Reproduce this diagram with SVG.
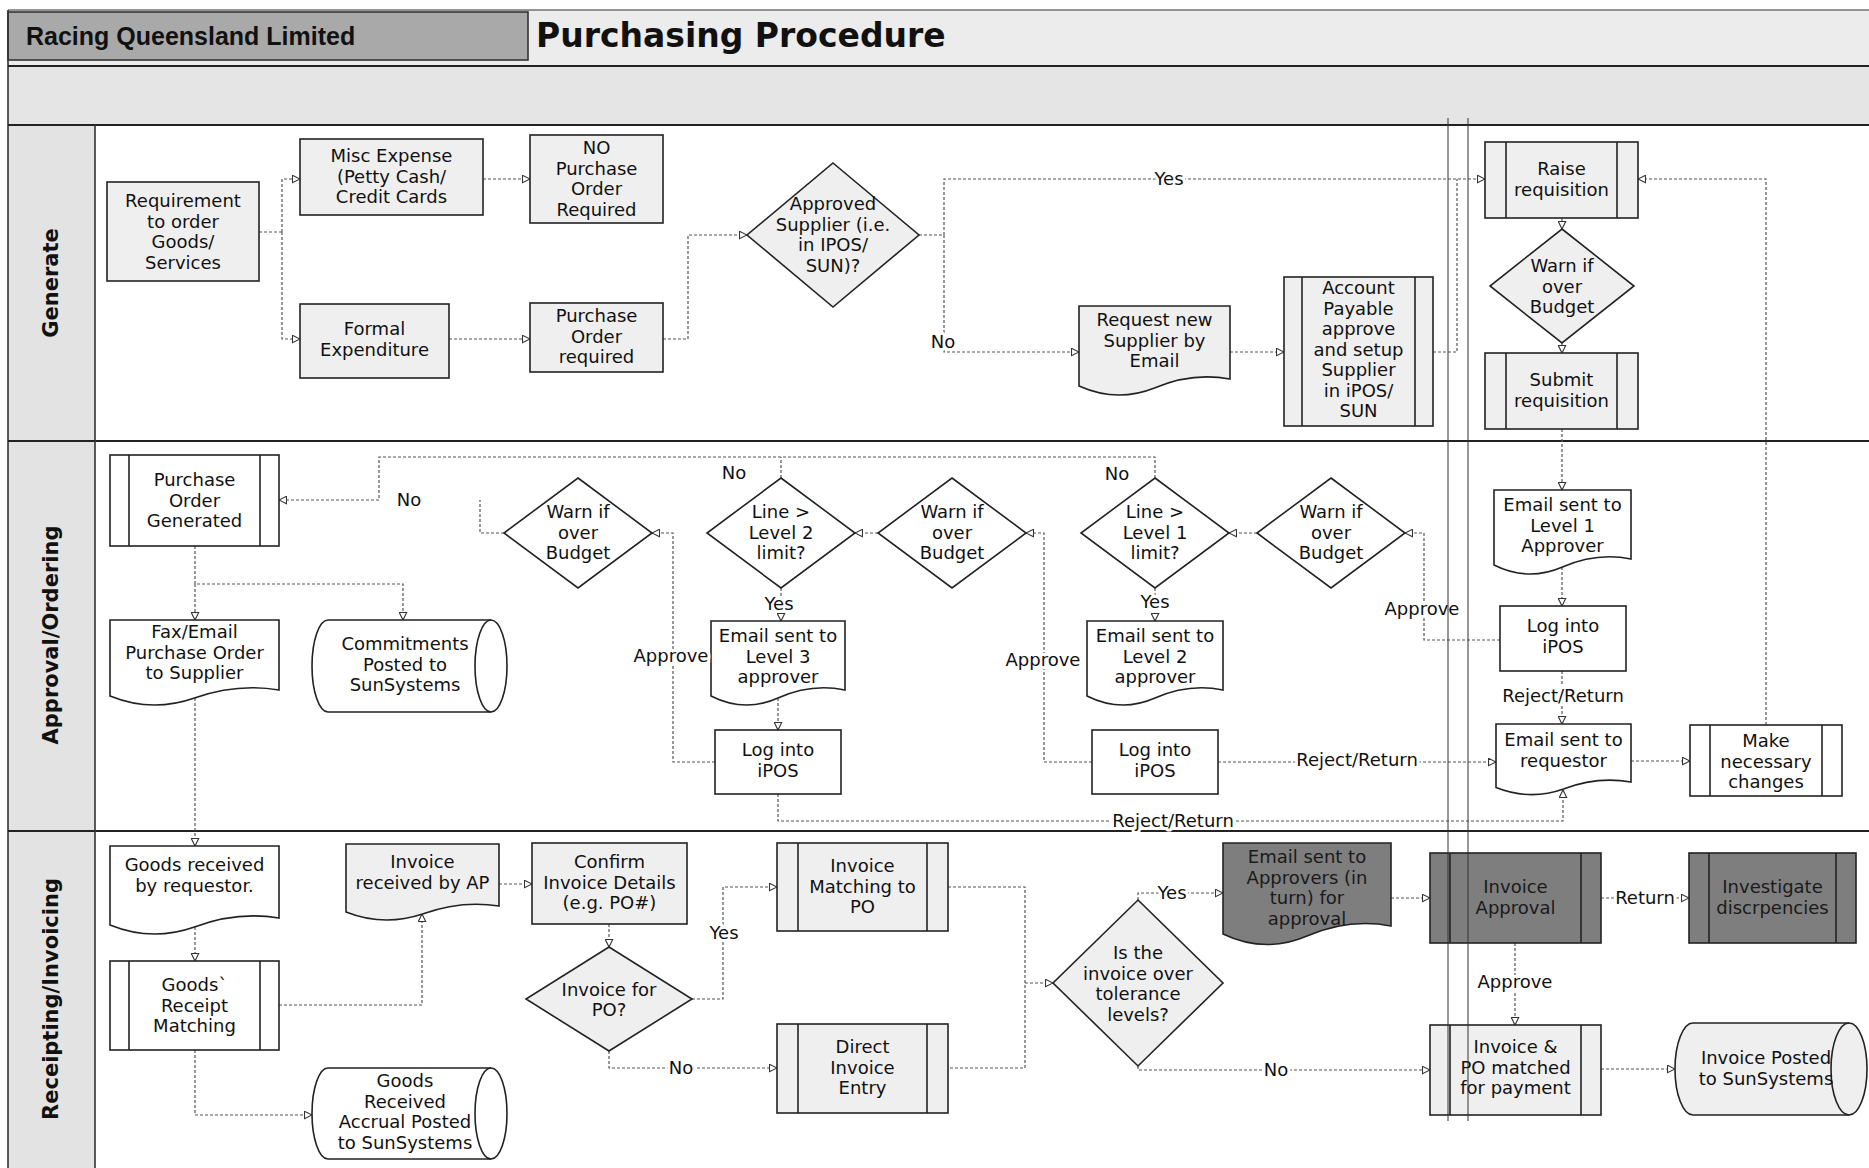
<svg xmlns="http://www.w3.org/2000/svg" width="1869" height="1168" viewBox="0 0 1869 1168">
<style>
.s{stroke:#222;stroke-width:1.6}
.w{fill:#fff}
.lt{fill:#efefef}
.dk{fill:#7e7e7e}
.t{font-family:"DejaVu Sans",Verdana,sans-serif;font-size:18px;text-anchor:middle;fill:#111}
.td{fill:#1a1a1a}
.c{fill:none;stroke:#555;stroke-width:1.2;stroke-dasharray:3 2}
.a{marker-end:url(#ah)}
.lb{font-family:"DejaVu Sans",Verdana,sans-serif;font-size:18px;text-anchor:middle;fill:#111;stroke:#fff;stroke-width:6px;paint-order:stroke;stroke-linejoin:round}
.lane{font-family:"DejaVu Sans",Verdana,sans-serif;font-size:21px;font-weight:bold;text-anchor:middle;fill:#111}
.frame{stroke:#222;stroke-width:2;fill:none}
</style>
<defs>
<marker id="ah" markerWidth="9" markerHeight="9" refX="8" refY="4.5" orient="auto" markerUnits="userSpaceOnUse">
<path d="M0.5,0.8 L8,4.5 L0.5,8.2 Z" fill="#fff" stroke="#333" stroke-width="1.1"/>
</marker>
</defs>
<rect x="0" y="0" width="1869" height="1168" fill="#fff"/>
<!-- header -->
<rect x="8" y="10" width="1861" height="56" fill="#ececec"/>
<rect x="8" y="66" width="1861" height="59" fill="#e5e5e5"/>
<rect x="8" y="125" width="87" height="1043" fill="#e3e3e3"/>
<rect x="8" y="12" width="520" height="48" fill="#a9a9a9" stroke="#333" stroke-width="1.6"/>
<text x="26" y="45" font-family="'Liberation Sans',Arial,sans-serif" font-size="25" font-weight="bold" fill="#111">Racing Queensland Limited</text>
<text x="536" y="47" font-family="'DejaVu Sans',Verdana,sans-serif" font-size="33" font-weight="bold" fill="#111">Purchasing Procedure</text>
<line x1="8" y1="10" x2="1869" y2="10" stroke="#333" stroke-width="1.2"/>
<line x1="8" y1="10" x2="8" y2="1168" stroke="#333" stroke-width="1.6"/>
<line x1="8" y1="66" x2="1869" y2="66" class="frame"/>
<line x1="8" y1="125" x2="1869" y2="125" class="frame"/>
<line x1="8" y1="441" x2="1869" y2="441" class="frame"/>
<line x1="8" y1="831" x2="1869" y2="831" class="frame"/>
<line x1="95" y1="125" x2="95" y2="1168" stroke="#333" stroke-width="1.6"/>
<text class="lane" transform="translate(58,283) rotate(-90)">Generate</text>
<text class="lane" transform="translate(58,635) rotate(-90)">Approval/Ordering</text>
<text class="lane" transform="translate(58,999) rotate(-90)">Receipting/Invoicing</text>

<g id="connectors">
<path class="c" d="M259,232 H282"/>
<path class="c a" d="M282,232 V179 H300"/>
<path class="c a" d="M282,232 V339 H300"/>
<path class="c a" d="M483,179 H530"/>
<path class="c a" d="M449,339 H530"/>
<path class="c a" d="M663,339 H688 V235 H747"/>
<path class="c a" d="M919,235 H944 V179 H1485"/>
<path class="c a" d="M944,235 V352 H1079"/>
<path class="c a" d="M1230,352 H1284"/>
<path class="c" d="M1433,352 H1457 V179"/>
<path class="c a" d="M1562,218 V229"/>
<path class="c a" d="M1562,343 V353"/>
<path class="c a" d="M1562,429 V490"/>
<path class="c a" d="M1562,567 V606"/>
<path class="c a" d="M1562,671 V724"/>
<path class="c a" d="M1500,640 H1424 V533 H1405"/>
<path class="c a" d="M1257,533 H1229"/>
<path class="c a" d="M1155,588 V621"/>
<path class="c a" d="M1155,478 V457 H379 V500 H279"/>
<path class="c" d="M504,533 H480 V500"/>
<path class="c" d="M781,478 V457"/>
<path class="c a" d="M878,533 H855"/>
<path class="c a" d="M1092,762 H1044 V533 H1026"/>
<path class="c a" d="M781,588 V621"/>
<path class="c a" d="M778,698 V730"/>
<path class="c a" d="M715,762 H673 V533 H652"/>
<path class="c a" d="M1218,762 H1496"/>
<path class="c a" d="M778,794 V821 H1563 V790"/>
<path class="c a" d="M1631,761 H1690"/>
<path class="c a" d="M1766,725 V179 H1638"/>
<path class="c a" d="M195,546 V584 H403 V620"/>
<path class="c a" d="M195,584 V620"/>
<path class="c a" d="M195,698 V846"/>
<path class="c a" d="M195,927 V961"/>
<path class="c a" d="M195,1050 V1115 H312"/>
<path class="c a" d="M279,1005 H422 V914"/>
<path class="c a" d="M499,884 H532"/>
<path class="c a" d="M609,924 V947"/>
<path class="c a" d="M692,999 H723 V887 H777"/>
<path class="c a" d="M609,1051 V1068 H777"/>
<path class="c" d="M948,887 H1025 V1068 H948"/>
<path class="c a" d="M1025,983 H1053"/>
<path class="c a" d="M1138,900 V893 H1223"/>
<path class="c a" d="M1138,1066 V1070 H1430"/>
<path class="c a" d="M1391,898 H1430"/>
<path class="c a" d="M1601,898 H1689"/>
<path class="c a" d="M1515,943 V1025"/>
<path class="c a" d="M1601,1069 H1675"/>
</g>

<!-- Generate lane -->
<g id="n-requirement">
<rect class="s lt" x="107" y="182" width="152" height="99"/>
<text class="t"><tspan x="183" y="207">Requirement</tspan><tspan x="183" y="227.5">to order</tspan><tspan x="183" y="248">Goods/</tspan><tspan x="183" y="268.5">Services</tspan></text>
</g>
<g id="n-misc">
<rect class="s lt" x="300" y="139" width="183" height="76"/>
<text class="t"><tspan x="391.5" y="162">Misc Expense</tspan><tspan x="391.5" y="182.5">(Petty Cash/</tspan><tspan x="391.5" y="203">Credit Cards</tspan></text>
</g>
<g id="n-nopo">
<rect class="s lt" x="530" y="135" width="133" height="88"/>
<text class="t"><tspan x="596.5" y="154">NO</tspan><tspan x="596.5" y="174.5">Purchase</tspan><tspan x="596.5" y="195">Order</tspan><tspan x="596.5" y="215.5">Required</tspan></text>
</g>
<g id="n-formal">
<rect class="s lt" x="300" y="304" width="149" height="74"/>
<text class="t"><tspan x="374.5" y="335">Formal</tspan><tspan x="374.5" y="355.5">Expenditure</tspan></text>
</g>
<g id="n-poreq">
<rect class="s lt" x="530" y="303" width="133" height="69"/>
<text class="t"><tspan x="596.5" y="322">Purchase</tspan><tspan x="596.5" y="342.5">Order</tspan><tspan x="596.5" y="363">required</tspan></text>
</g>
<g id="n-approved">
<path class="s lt" d="M833,163 L919,235 L833,307 L747,235 Z"/>
<text class="t"><tspan x="833" y="210">Approved</tspan><tspan x="833" y="230.5">Supplier (i.e.</tspan><tspan x="833" y="251">in IPOS/</tspan><tspan x="833" y="271.5">SUN)?</tspan></text>
</g>
<g id="n-requestnew">
<path class="s lt" d="M1079,306 H1230 V379 Q1192,372 1154.5,388 Q1117,403 1079,386 Z"/>
<text class="t"><tspan x="1154.5" y="326">Request new</tspan><tspan x="1154.5" y="346.5">Supplier by</tspan><tspan x="1154.5" y="367">Email</tspan></text>
</g>
<g id="n-ap">
<rect class="s lt" x="1284" y="277" width="149" height="149"/>
<line class="s" x1="1302" y1="277" x2="1302" y2="426"/>
<line class="s" x1="1415" y1="277" x2="1415" y2="426"/>
<text class="t"><tspan x="1358.5" y="294">Account</tspan><tspan x="1358.5" y="314.5">Payable</tspan><tspan x="1358.5" y="335">approve</tspan><tspan x="1358.5" y="355.5">and setup</tspan><tspan x="1358.5" y="376">Supplier</tspan><tspan x="1358.5" y="396.5">in iPOS/</tspan><tspan x="1358.5" y="417">SUN</tspan></text>
</g>
<g id="n-raise">
<rect class="s lt" x="1485" y="142" width="153" height="76"/>
<line class="s" x1="1506" y1="142" x2="1506" y2="218"/>
<line class="s" x1="1617" y1="142" x2="1617" y2="218"/>
<text class="t"><tspan x="1561.5" y="175">Raise</tspan><tspan x="1561.5" y="195.5">requisition</tspan></text>
</g>
<g id="n-warn0">
<path class="s lt" d="M1562,229 L1634,286 L1562,343 L1490,286 Z"/>
<text class="t"><tspan x="1562" y="272">Warn if</tspan><tspan x="1562" y="292.5">over</tspan><tspan x="1562" y="313">Budget</tspan></text>
</g>
<g id="n-submit">
<rect class="s lt" x="1485" y="353" width="153" height="76"/>
<line class="s" x1="1506" y1="353" x2="1506" y2="429"/>
<line class="s" x1="1617" y1="353" x2="1617" y2="429"/>
<text class="t"><tspan x="1561.5" y="386">Submit</tspan><tspan x="1561.5" y="406.5">requisition</tspan></text>
</g>

<!-- Approval lane -->
<g id="n-pogen">
<rect class="s w" x="110" y="455" width="169" height="91"/>
<line class="s" x1="129" y1="455" x2="129" y2="546"/>
<line class="s" x1="260" y1="455" x2="260" y2="546"/>
<text class="t"><tspan x="194.5" y="486">Purchase</tspan><tspan x="194.5" y="506.5">Order</tspan><tspan x="194.5" y="527">Generated</tspan></text>
</g>
<g id="n-fax">
<path class="s w" d="M110,620 H279 V690 Q237,683 194.5,698 Q152,713 110,696 Z"/>
<text class="t"><tspan x="194.5" y="638">Fax/Email</tspan><tspan x="194.5" y="658.5">Purchase Order</tspan><tspan x="194.5" y="679">to Supplier</tspan></text>
</g>
<g id="n-commit">
<path class="s w" d="M328,620 H491 A16,46 0 0 1 491,712 H328 A16,46 0 0 1 328,620 Z"/>
<path class="s" fill="none" d="M491,620 A16,46 0 0 0 491,712"/>
<text class="t"><tspan x="405" y="650">Commitments</tspan><tspan x="405" y="670.5">Posted to</tspan><tspan x="405" y="691">SunSystems</tspan></text>
</g>
<g id="n-warn3">
<path class="s w" d="M578,478 L652,533 L578,588 L504,533 Z"/>
<text class="t"><tspan x="578" y="518">Warn if</tspan><tspan x="578" y="538.5">over</tspan><tspan x="578" y="559">Budget</tspan></text>
</g>
<g id="n-line2">
<path class="s w" d="M781,478 L855,533 L781,588 L707,533 Z"/>
<text class="t"><tspan x="781" y="518">Line &gt;</tspan><tspan x="781" y="538.5">Level 2</tspan><tspan x="781" y="559">limit?</tspan></text>
</g>
<g id="n-warn2">
<path class="s w" d="M952,478 L1026,533 L952,588 L878,533 Z"/>
<text class="t"><tspan x="952" y="518">Warn if</tspan><tspan x="952" y="538.5">over</tspan><tspan x="952" y="559">Budget</tspan></text>
</g>
<g id="n-line1">
<path class="s w" d="M1155,478 L1229,533 L1155,588 L1081,533 Z"/>
<text class="t"><tspan x="1155" y="518">Line &gt;</tspan><tspan x="1155" y="538.5">Level 1</tspan><tspan x="1155" y="559">limit?</tspan></text>
</g>
<g id="n-warn1">
<path class="s w" d="M1331,478 L1405,533 L1331,588 L1257,533 Z"/>
<text class="t"><tspan x="1331" y="518">Warn if</tspan><tspan x="1331" y="538.5">over</tspan><tspan x="1331" y="559">Budget</tspan></text>
</g>
<g id="n-email3">
<path class="s w" d="M711,621 H845 V690 Q811.5,683 778,698 Q744.5,713 711,696 Z"/>
<text class="t"><tspan x="778" y="642">Email sent to</tspan><tspan x="778" y="662.5">Level 3</tspan><tspan x="778" y="683">approver</tspan></text>
</g>
<g id="n-log3">
<rect class="s w" x="715" y="730" width="126" height="64"/>
<text class="t"><tspan x="778" y="756">Log into</tspan><tspan x="778" y="776.5">iPOS</tspan></text>
</g>
<g id="n-email2">
<path class="s w" d="M1087,621 H1223 V690 Q1189,683 1155,698 Q1121,713 1087,696 Z"/>
<text class="t"><tspan x="1155" y="642">Email sent to</tspan><tspan x="1155" y="662.5">Level 2</tspan><tspan x="1155" y="683">approver</tspan></text>
</g>
<g id="n-log2">
<rect class="s w" x="1092" y="730" width="126" height="64"/>
<text class="t"><tspan x="1155" y="756">Log into</tspan><tspan x="1155" y="776.5">iPOS</tspan></text>
</g>
<g id="n-email1">
<path class="s w" d="M1494,490 H1631 V559 Q1597,552 1562.5,567 Q1528,582 1494,565 Z"/>
<text class="t"><tspan x="1562.5" y="511">Email sent to</tspan><tspan x="1562.5" y="531.5">Level 1</tspan><tspan x="1562.5" y="552">Approver</tspan></text>
</g>
<g id="n-log1">
<rect class="s w" x="1500" y="606" width="126" height="65"/>
<text class="t"><tspan x="1563" y="632">Log into</tspan><tspan x="1563" y="652.5">iPOS</tspan></text>
</g>
<g id="n-emailreq">
<path class="s w" d="M1496,724 H1631 V782 Q1597,776 1563.5,789 Q1530,801 1496,787.5 Z"/>
<text class="t"><tspan x="1563.5" y="746">Email sent to</tspan><tspan x="1563.5" y="766.5">requestor</tspan></text>
</g>
<g id="n-make">
<rect class="s w" x="1690" y="725" width="152" height="71"/>
<line class="s" x1="1710" y1="725" x2="1710" y2="796"/>
<line class="s" x1="1822" y1="725" x2="1822" y2="796"/>
<text class="t"><tspan x="1766" y="747">Make</tspan><tspan x="1766" y="767.5">necessary</tspan><tspan x="1766" y="788">changes</tspan></text>
</g>

<!-- Receipting lane -->
<g id="n-goodsrec">
<path class="s w" d="M110,846 H279 V918 Q237,911 194.5,927 Q152,942 110,925 Z"/>
<text class="t"><tspan x="194.5" y="871">Goods received</tspan><tspan x="194.5" y="891.5">by requestor.</tspan></text>
</g>
<g id="n-grm">
<rect class="s w" x="110" y="961" width="169" height="89"/>
<line class="s" x1="129" y1="961" x2="129" y2="1050"/>
<line class="s" x1="260" y1="961" x2="260" y2="1050"/>
<text class="t"><tspan x="194.5" y="991">Goods`</tspan><tspan x="194.5" y="1011.5">Receipt</tspan><tspan x="194.5" y="1032">Matching</tspan></text>
</g>
<g id="n-accrual">
<path class="s w" d="M328,1068 H491 A16,45.5 0 0 1 491,1159 H328 A16,45.5 0 0 1 328,1068 Z"/>
<path class="s" fill="none" d="M491,1068 A16,45.5 0 0 0 491,1159"/>
<text class="t"><tspan x="405" y="1087">Goods</tspan><tspan x="405" y="1107.5">Received</tspan><tspan x="405" y="1128">Accrual Posted</tspan><tspan x="405" y="1148.5">to SunSystems</tspan></text>
</g>
<g id="n-invrec">
<path class="s lt" d="M346,844 H499 V906 Q461,900 422.5,914 Q384,927 346,912 Z"/>
<text class="t"><tspan x="422.5" y="868">Invoice</tspan><tspan x="422.5" y="888.5">received by AP</tspan></text>
</g>
<g id="n-confirm">
<rect class="s lt" x="532" y="843" width="155" height="81"/>
<text class="t"><tspan x="609.5" y="868">Confirm</tspan><tspan x="609.5" y="888.5">Invoice Details</tspan><tspan x="609.5" y="909">(e.g. PO#)</tspan></text>
</g>
<g id="n-invpo">
<path class="s lt" d="M609,947 L692,999 L609,1051 L526,999 Z"/>
<text class="t"><tspan x="609" y="995.5">Invoice for</tspan><tspan x="609" y="1016">PO?</tspan></text>
</g>
<g id="n-invmatch">
<rect class="s lt" x="777" y="843" width="171" height="88"/>
<line class="s" x1="798" y1="843" x2="798" y2="931"/>
<line class="s" x1="927" y1="843" x2="927" y2="931"/>
<text class="t"><tspan x="862.5" y="872">Invoice</tspan><tspan x="862.5" y="892.5">Matching to</tspan><tspan x="862.5" y="913">PO</tspan></text>
</g>
<g id="n-direct">
<rect class="s lt" x="777" y="1024" width="171" height="89"/>
<line class="s" x1="798" y1="1024" x2="798" y2="1113"/>
<line class="s" x1="927" y1="1024" x2="927" y2="1113"/>
<text class="t"><tspan x="862.5" y="1053">Direct</tspan><tspan x="862.5" y="1073.5">Invoice</tspan><tspan x="862.5" y="1094">Entry</tspan></text>
</g>
<g id="n-tolerance">
<path class="s lt" d="M1138,900 L1223,983 L1138,1066 L1053,983 Z"/>
<text class="t"><tspan x="1138" y="959">Is the</tspan><tspan x="1138" y="979.5">invoice over</tspan><tspan x="1138" y="1000">tolerance</tspan><tspan x="1138" y="1020.5">levels?</tspan></text>
</g>
<g id="n-emailappr">
<path class="s dk" d="M1223,843 H1391 V926 Q1349,918 1307,936 Q1265,954 1223,934 Z"/>
<text class="t td"><tspan x="1307" y="863">Email sent to</tspan><tspan x="1307" y="883.5">Approvers (in</tspan><tspan x="1307" y="904">turn) for</tspan><tspan x="1307" y="924.5">approval</tspan></text>
</g>
<g id="n-invappr">
<rect class="s dk" x="1430" y="853" width="171" height="90"/>
<line class="s" x1="1450" y1="853" x2="1450" y2="943"/>
<line class="s" x1="1581" y1="853" x2="1581" y2="943"/>
<text class="t td"><tspan x="1515.5" y="893">Invoice</tspan><tspan x="1515.5" y="913.5">Approval</tspan></text>
</g>
<g id="n-investigate">
<rect class="s dk" x="1689" y="853" width="167" height="90"/>
<line class="s" x1="1709" y1="853" x2="1709" y2="943"/>
<line class="s" x1="1836" y1="853" x2="1836" y2="943"/>
<text class="t td"><tspan x="1772.5" y="893">Investigate</tspan><tspan x="1772.5" y="913.5">discrpencies</tspan></text>
</g>
<g id="n-matched">
<rect class="s lt" x="1430" y="1025" width="171" height="90"/>
<line class="s" x1="1450" y1="1025" x2="1450" y2="1115"/>
<line class="s" x1="1581" y1="1025" x2="1581" y2="1115"/>
<text class="t"><tspan x="1515.5" y="1053">Invoice &amp;</tspan><tspan x="1515.5" y="1073.5">PO matched</tspan><tspan x="1515.5" y="1094">for payment</tspan></text>
</g>
<g id="n-posted">
<path class="s lt" d="M1693,1023 H1849 A18,46 0 0 1 1849,1115 H1693 A18,46 0 0 1 1693,1023 Z"/>
<path class="s" fill="none" d="M1849,1023 A18,46 0 0 0 1849,1115"/>
<text class="t"><tspan x="1766" y="1064">Invoice Posted</tspan><tspan x="1766" y="1084.5">to SunSystems</tspan></text>
</g>

<g id="labels">
<text class="lb" x="1169" y="185">Yes</text>
<text class="lb" x="943" y="348">No</text>
<text class="lb" x="409" y="506">No</text>
<text class="lb" x="734" y="479">No</text>
<text class="lb" x="1117" y="480">No</text>
<text class="lb" x="779" y="610">Yes</text>
<text class="lb" x="1155" y="608">Yes</text>
<text class="lb" x="671" y="662">Approve</text>
<text class="lb" x="1043" y="666">Approve</text>
<text class="lb" x="1422" y="615">Approve</text>
<text class="lb" x="1563" y="702">Reject/Return</text>
<text class="lb" x="1357" y="766">Reject/Return</text>
<text class="lb" x="1173" y="827">Reject/Return</text>
<text class="lb" x="724" y="939">Yes</text>
<text class="lb" x="681" y="1074">No</text>
<text class="lb" x="1172" y="899">Yes</text>
<text class="lb" x="1276" y="1076">No</text>
<text class="lb" x="1645" y="904">Return</text>
<text class="lb" x="1515" y="988">Approve</text>
</g>
<line x1="1448" y1="118" x2="1448" y2="1121" stroke="#333" stroke-width="1"/>
<line x1="1468" y1="118" x2="1468" y2="1121" stroke="#333" stroke-width="1"/>
</svg>
